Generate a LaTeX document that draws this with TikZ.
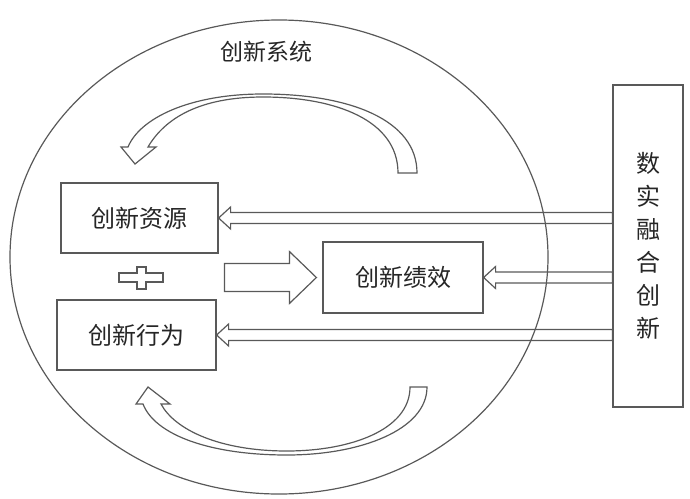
\documentclass[tikz,border=0pt]{standalone}
\usepackage{fontspec}
\usepackage{tikz}
\usetikzlibrary{calc}
\newfontfamily\cjk{Noto Sans CJK SC}

% hollow straight arrow: tail, tip, half shaft, half head, head length
\newcommand{\blockarrow}[5]{%
  \draw[outline] ($(#1)+(0,-#3)$) -- ($(#2)+(#5,-#3)$) -- ($(#2)+(#5,-#4)$) -- (#2)
    -- ($(#2)+(#5,#4)$) -- ($(#2)+(#5,#3)$) -- ($(#1)+(0,#3)$) -- cycle;}

\begin{document}
\begin{tikzpicture}[x=0.5pt, y=-0.5pt,
    outline/.style={draw=black!65, line width=0.6pt},
    box/.style={outline, rectangle, inner sep=0pt, text=black!85,
                font=\cjk\fontsize{12}{16.5}\selectfont}]
                \useasboundingbox (0,0) rectangle (690,498);

                %% system
                \draw[outline] (279,257) ellipse [x radius=269, y radius=237];
                \node[text=black!85, font=\cjk\fontsize{11.5}{14}\selectfont] (sys) at (266,52) {创新系统};

                %% boxes
                \node[box, minimum width=78.5pt, minimum height=35pt] (res) at (139.5,218) {创新资源};
                \node[box, minimum width=79.5pt, minimum height=35pt] (act) at (136.5,335) {创新行为};
                \node[box, minimum width=80pt, minimum height=35.5pt] (perf) at (403,277.5) {创新绩效};
                \node[box, minimum width=35pt, minimum height=161pt, align=center] (digi) at (648,246)
                    {数\\实\\融\\合\\创\\新};

                %% plus
                \draw[outline] (119,273) -- (137,273) -- (137,267) -- (146,267) -- (146,273) -- (163,273)
                    -- (163,282) -- (146,282) -- (146,289) -- (137,289) -- (137,282) -- (119,282) -- cycle;

                %% arrows from digi
                \coordinate (t1) at (digi.west |- res.east);
                \coordinate (t2) at (digi.west |- perf.east);
                \coordinate (t3) at (digi.west |- act.east);
                \blockarrow{t1}{res.east}{5.5}{11}{12}
                \blockarrow{t2}{perf.east}{5.5}{11}{12}
                \blockarrow{t3}{act.east}{5.5}{11}{12}

                %% resources + behaviour -> performance
                \coordinate (flowtip) at ($(perf.west)+(-6,0)$);
                \coordinate (flowtail) at ($(flowtip)+(-92,0)$);
                \blockarrow{flowtail}{flowtip}{14}{26}{-27}

                %% loop top
                \draw[outline] (417,173) .. controls (417,120) and (350,94) .. (263,94)
                    .. controls (190,94) and (140,118) .. (128,147) -- (121,147) -- (135,164) -- (156,147)
                    -- (148,147) .. controls (165,118) and (200,97) .. (263,97)
                    .. controls (335,97) and (398,120) .. (398,173) -- cycle;

                %% loop bottom
                \draw[outline] (427,387) .. controls (427,430) and (360,455) .. (287,455)
                    .. controls (210,455) and (155,435) .. (143,404) -- (136,404) -- (148,387) -- (170,404)
                    -- (161,404) .. controls (175,430) and (220,451) .. (287,451)
                    .. controls (350,451) and (410,430) .. (410,387) -- cycle;

\end{tikzpicture}
\end{document}
